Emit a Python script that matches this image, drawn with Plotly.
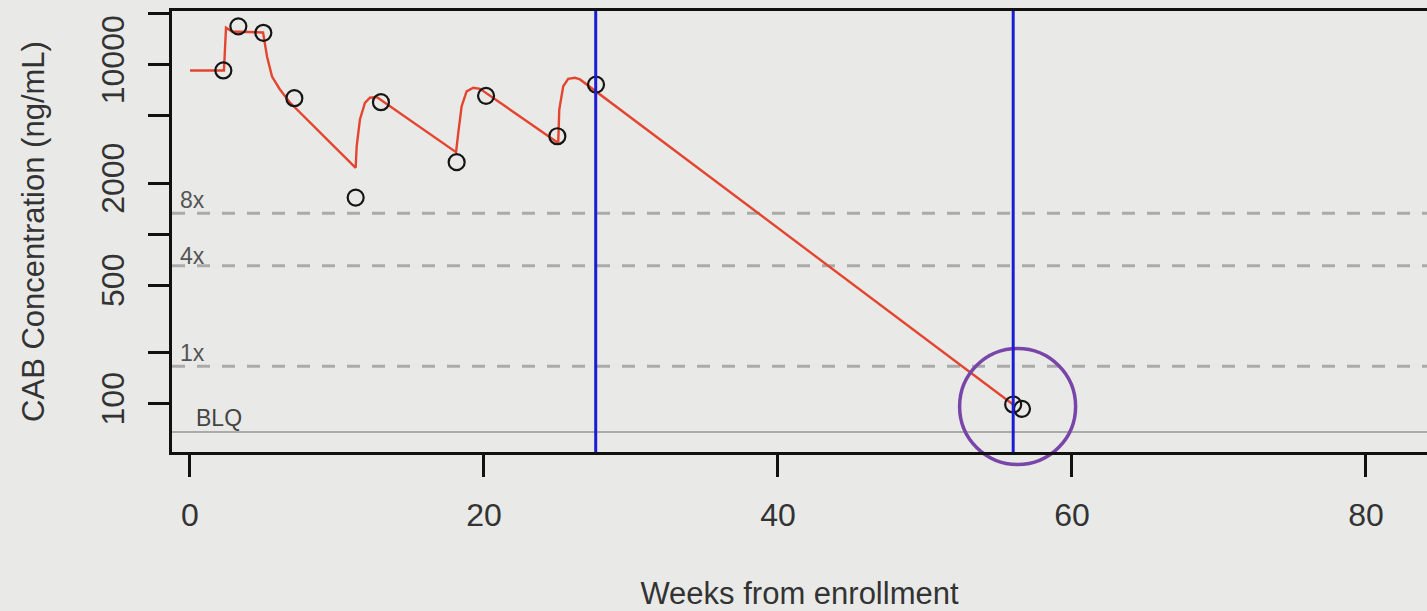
import math
import plotly.graph_objects as go

# ---- data ----
model_weeks = [0, 2.31, 2.45, 2.86, 4.97, 5.10, 5.24, 5.58, 6.12, 6.80, 11.27,
               11.34, 11.56, 11.90, 12.24, 12.70, 18.10,
               18.25, 18.48, 18.82, 19.27, 19.73, 25.05,
               25.12, 25.39, 25.73, 26.19, 26.53, 55.99]
model_conc = [9230, 9230, 16500, 15660, 15450, 13120, 11150, 8490, 7130, 5970, 2460,
              3296, 4745, 5940, 6370, 6440, 3040,
              3955, 5680, 6950, 7300, 7190, 3450,
              5430, 7450, 8240, 8350, 8170, 98.6]

obs_weeks = [2.27, 3.29, 4.99, 7.10, 11.27, 12.99, 18.14, 20.14, 24.99, 27.62, 56.0, 56.6]
obs_conc = [9230, 16800, 15400, 6330, 1641, 5995, 2655, 6535, 3776, 7620, 98.7, 93]

threshold_labels = ["8x", "4x", "1x"]
threshold_values = [1328, 650, 166]
blq_label = "BLQ"
blq_value = 68

visit_weeks = [27.6, 56.0]
highlight_week = [56.3]
highlight_conc = [96]

y_tick_values = [100, 200, 500, 1000, 2000, 5000, 10000, 20000]
y_tick_labels = ["100", "", "500", "", "2000", "", "10000", ""]
x_tick_values = [0, 20, 40, 60, 80]

BG = "#e9eae8"
TXT = "#333333"
FONT = "Liberation Sans, Arial, sans-serif"
label_shifts = [-2, -5, -2]

fig = go.Figure()

fig.add_trace(go.Scatter(x=model_weeks, y=model_conc, mode="lines",
                         line=dict(color="#e4452f", width=2.4), hoverinfo="skip",
                         showlegend=False))
fig.add_trace(go.Scatter(x=obs_weeks, y=obs_conc, mode="markers",
                         marker=dict(symbol="circle-open", size=16, color="#151515",
                                     line=dict(width=2.2, color="#151515")),
                         showlegend=False))
fig.add_trace(go.Scatter(x=highlight_week, y=highlight_conc, mode="markers",
                         marker=dict(symbol="circle-open", size=116, color="#7a45a8",
                                     line=dict(width=3.5, color="#7a45a8")),
                         cliponaxis=False, showlegend=False))

shapes = []
for v in threshold_values:
    shapes.append(dict(type="line", xref="paper", x0=0, x1=1, yref="y", y0=v, y1=v,
                       line=dict(color="#aaaaaa", width=3, dash="13px,12px"), layer="below"))
shapes.append(dict(type="line", xref="paper", x0=0, x1=1, yref="y", y0=blq_value, y1=blq_value,
                   line=dict(color="#aaaaaa", width=2), layer="below"))
for w in visit_weeks:
    shapes.append(dict(type="line", xref="x", x0=w, x1=w, yref="paper", y0=0, y1=1,
                       line=dict(color="#1c1cd4", width=3), layer="above"))

annotations = []
for lab, v, sh in zip(threshold_labels, threshold_values, label_shifts):
    annotations.append(dict(text=lab, xref="x", x=-0.85, yref="y", y=math.log10(v),
                            xanchor="left", yanchor="bottom", showarrow=False, yshift=sh,
                            font=dict(size=23, color="#555555", family=FONT)))
annotations.append(dict(text=blq_label, xref="x", x=0.3, yref="y", y=math.log10(blq_value),
                        xanchor="left", yanchor="bottom", showarrow=False, yshift=-1,
                        font=dict(size=23, color="#444444", family=FONT)))

fig.update_layout(
    width=1427, height=611,
    margin=dict(l=172, r=0, t=11, b=159),
    paper_bgcolor=BG, plot_bgcolor=BG,
    font=dict(family=FONT, color=TXT),
    shapes=shapes, annotations=annotations,
    xaxis=dict(range=[-1.224, 84.15], tickvals=x_tick_values,
               ticks="outside", ticklen=22, tickwidth=3, tickcolor="#111",
               showline=True, linewidth=3, linecolor="#111", mirror=True,
               showgrid=False, zeroline=False,
               tickfont=dict(size=32, color=TXT, family=FONT), ticklabelstandoff=11,
               title=dict(text="Weeks from enrollment", font=dict(size=31, color=TXT, family=FONT),
                          standoff=52)),
    yaxis=dict(type="log", range=[1.714, 4.316], tickvals=y_tick_values, ticktext=y_tick_labels,
               tickangle=-90, ticks="outside", ticklen=21, tickwidth=3, tickcolor="#111",
               showline=True, linewidth=3, linecolor="#111",
               showgrid=False, zeroline=False,
               tickfont=dict(size=32, color=TXT, family=FONT), ticklabelstandoff=11,
               title=dict(text="CAB Concentration (ng/mL)", font=dict(size=31, color=TXT, family=FONT),
                          standoff=42)),
)

fig.write_html("out.html", config={"displayModeBar": False},
               post_script="document.body.style.margin='0';document.body.style.overflow='hidden';document.body.style.background='" + BG + "';")
